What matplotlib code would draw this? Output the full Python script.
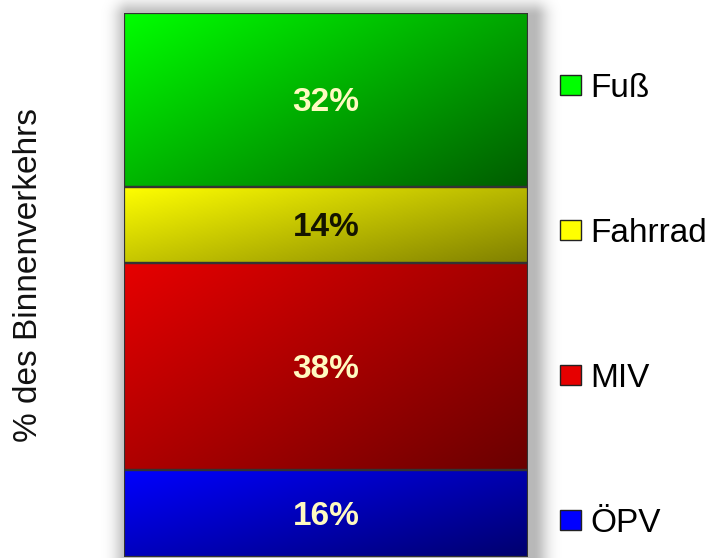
import numpy as np
import matplotlib
matplotlib.use("Agg")
import matplotlib.pyplot as plt
from matplotlib.colors import LinearSegmentedColormap
from matplotlib.patches import Patch

plt.rcParams['font.family'] = ['Liberation Sans', 'DejaVu Sans']

# data, bottom to top
modes = ["ÖPV", "MIV", "Fahrrad", "Fuß"]
shares = [16, 38, 14, 32]
light_cols = ["#0000ff", "#e60000", "#ffff00", "#00ff00"]
dark_cols = ["#00006e", "#6a0000", "#808000", "#005c00"]
label_cols = ["#fffac0", "#fffac0", "#141400", "#fffac0"]

fig = plt.figure(figsize=(7.21, 5.58), dpi=100)
fig.patch.set_facecolor("white")
ax = fig.add_axes([124 / 721, 1 / 558, 404 / 721, 544 / 558])
ax.set_xlim(-0.4, 0.4)
ax.set_ylim(0, 100)
ax.axis("off")
ax.set_zorder(1)

bottoms = np.concatenate([[0], np.cumsum(shares)[:-1]])
bars = ax.bar(0, shares, bottom=bottoms, width=0.8, facecolor="none",
              edgecolor="#333333", linewidth=1.6, zorder=3)

# diagonal gradient (light top-left -> dark bottom-right)
nx, ny = 200, 100
u = np.linspace(0, 1, nx)[None, :]
v = np.linspace(0, 1, ny)[:, None]
grad = 0.55 * u + 0.45 * v
for bar, lc, dc in zip(bars, light_cols, dark_cols):
    cmap = LinearSegmentedColormap.from_list("g", [lc, dc])
    x0, y0 = bar.get_x(), bar.get_y()
    ax.imshow(grad, cmap=cmap, extent=[x0, x0 + bar.get_width(), y0, y0 + bar.get_height()],
              aspect="auto", origin="upper", zorder=2, interpolation="bilinear")

for val, b, c in zip(shares, bottoms, label_cols):
    ax.text(0, b + val / 2 - 0.5, f"{val}%", ha="center", va="center", fontsize=24,
            fontweight="bold", color=c, zorder=4)

# soft drop shadow behind the bar
(px0, py0) = ax.transData.transform((-0.4, 0))
(px1, py1) = ax.transData.transform((0.4, sum(shares)))
W, H = 721, 558
X, Y = np.meshgrid(np.arange(W), np.arange(H))
ox, oy = 5, -4
dx = np.maximum(np.maximum(px0 + ox - X, 0), X - (px1 + ox))
dy = np.maximum(np.maximum(py0 + oy - Y, 0), Y - (py1 + oy))
d = np.hypot(dx, dy)
shadow = np.zeros((H, W, 4))
shadow[..., 3] = 0.28 * np.exp(-(d / 14.0) ** 2)
fig.figimage(shadow, 0, 0, origin="lower", zorder=0)

handles = [Patch(facecolor=lc, edgecolor="#222222", linewidth=1.0) for lc in light_cols]
fig.legend(handles[::-1], modes[::-1], loc="upper left",
           bbox_to_anchor=(560 / 721, 1 - 73 / 558), frameon=False, fontsize=24,
           handlelength=0.62, handleheight=0.55, handletextpad=0.3,
           labelspacing=3.42, borderpad=0, borderaxespad=0)

fig.text(29 / 721, 1 - 275 / 558, "% des Binnenverkehrs", rotation=90,
         ha="center", va="center", fontsize=24, color="#111111")

fig.savefig("out.png", dpi=100, facecolor="white")
